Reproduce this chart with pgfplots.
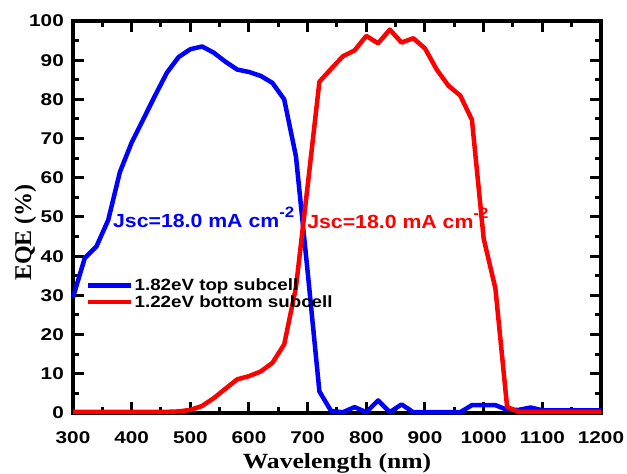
\documentclass[border=0pt]{standalone}
\usepackage{fontspec}
\usepackage{pgfplots}
\pgfplotsset{compat=1.18}
\newfontfamily\tickfont[FakeStretch=1.22]{Liberation Sans Bold}
\newfontfamily\legfont[FakeStretch=1.15]{Liberation Sans Bold}
\newfontfamily\annfont[FakeStretch=1.12]{Liberation Sans Bold}
\newfontfamily\xlabfont[FakeStretch=1.18]{Liberation Serif Bold}
\newfontfamily\ylabfont{Liberation Serif Bold}
\definecolor{pblue}{RGB}{0,0,255}
\definecolor{pred}{RGB}{255,0,0}
\begin{document}
\begin{tikzpicture}
\useasboundingbox (-73pt,-61pt) rectangle (554pt,413pt);
\begin{axis}[
  scale only axis, width=528pt, height=392pt,
  xmin=300, xmax=1200, ymin=0, ymax=100,
  xtick={300,400,...,1200}, ytick={0,10,...,100},
  minor x tick num=1, minor y tick num=1,
  tick pos=both, tick align=inside,
  major tick length=11pt, minor tick length=6pt,
  every tick/.style={black, line width=3pt},
  axis line style={line width=3.5pt},
  /pgf/number format/assume math mode=true,
  /pgf/number format/1000 sep={},
  ticklabel style={font=\tickfont\fontsize{17}{20}\selectfont},
  xticklabel style={inner sep=0pt, anchor=north, yshift=-18.5pt},
  yticklabel style={inner sep=0pt, anchor=east, xshift=-9pt},
  xlabel={Wavelength (nm)},
  xlabel style={font=\xlabfont\fontsize{21.7}{24}\selectfont, at={(axis description cs:0.5,0)}, anchor=base, yshift=-55.5pt, inner sep=0pt},
  ylabel={EQE (\%)},
  ylabel style={font=\ylabfont\fontsize{24}{26}\selectfont, at={(axis description cs:-0.0795,0.4605)}, anchor=base, inner sep=0pt},
  clip=false,
  legend cell align=left,
  legend style={draw=none, fill=none, at={(0.0246,0.345)}, anchor=north west, inner sep=0pt, row sep=1pt,
    font=\legfont\fontsize{16.3}{19}\selectfont, nodes={inner sep=1pt}},
  legend image code/.code={\draw[#1] (0pt,0pt) -- (43pt,0pt);},
]
\addplot[pblue, line width=4.5pt, line join=round] coordinates {
(300,29.5) (320,39.5) (340,42.5) (360,49.2) (380,61.5) (400,69) (420,75) (440,81)
(460,86.8) (480,90.8) (500,92.8) (520,93.5) (540,91.9) (560,89.6) (580,87.6) (600,87)
(620,86) (640,84.2) (660,80) (680,65.5) (700,36) (720,5.5) (740,0.5) (760,0.2)
(780,1.5) (800,0.2) (820,3.2) (840,0.2) (860,2.2) (880,0.2) (900,0.2) (920,0.2)
(940,0.2) (960,0.2) (980,2) (1000,2) (1020,2) (1040,0.8) (1060,0.8) (1080,1.4)
(1100,0.7) (1120,0.7) (1140,0.7) (1160,0.7) (1180,0.7) (1200,0.7)
};
\addlegendentry{1.82eV top subcell}
\addplot[pred, line width=4.5pt, line join=round] coordinates {
(300,0.3) (320,0.3) (340,0.3) (360,0.3) (380,0.3) (400,0.3) (420,0.3) (440,0.3)
(460,0.3) (480,0.4) (500,0.8) (520,1.8) (540,3.8) (560,6.2) (580,8.6) (600,9.4)
(620,10.6) (640,12.8) (660,17.5) (680,32) (700,58) (720,84.5) (740,87.8) (760,91)
(780,92.5) (800,96.2) (820,94.3) (840,97.8) (860,94.5) (880,95.6) (900,93) (920,87.6)
(940,83.5) (960,81) (980,74.8) (1000,44.5) (1020,31.8) (1040,1.5) (1060,0.3) (1080,0.3)
(1100,0.3) (1120,0.3) (1140,0.3) (1160,0.3) (1180,0.3) (1200,0.3)
};
\addlegendentry{1.22eV bottom subcell}
\node[anchor=base west, text=pblue, font=\annfont\fontsize{19}{22}\selectfont, inner sep=0pt] at (axis cs:368,47.2) {Jsc=18.0 mA cm\raisebox{10pt}{\fontsize{15}{15}\selectfont -2}};
\node[anchor=base west, text=pred, font=\annfont\fontsize{19}{22}\selectfont, inner sep=0pt] at (axis cs:699,47) {Jsc=18.0 mA cm\raisebox{10pt}{\fontsize{15}{15}\selectfont -2}};
\end{axis}
\end{tikzpicture}
\end{document}
